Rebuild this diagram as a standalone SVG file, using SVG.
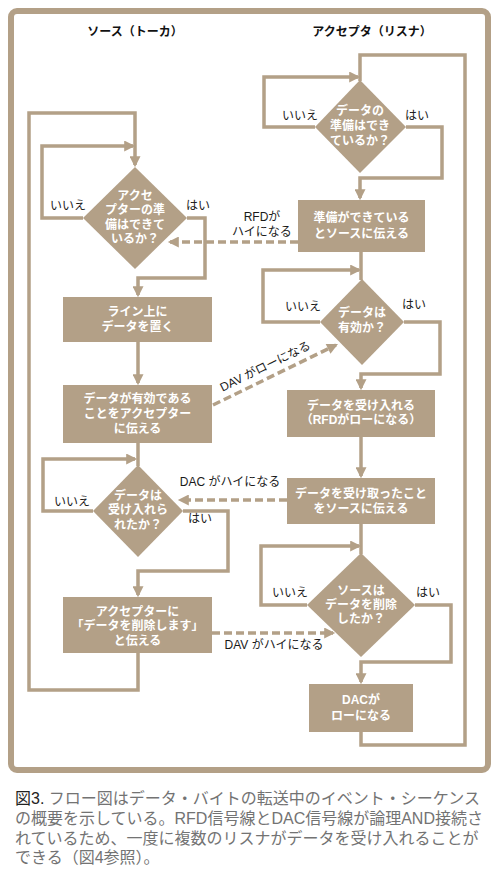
<svg xmlns="http://www.w3.org/2000/svg" width="497" height="874" viewBox="0 0 497 874">
<style>
.n{fill:#b3a087}
.t{font-family:"Liberation Sans","Noto Sans CJK JP",sans-serif;font-size:12px;font-weight:bold;fill:#fff;text-anchor:middle}
.l{font-family:"Liberation Sans","Noto Sans CJK JP",sans-serif;font-size:12px;fill:#1a1a1a;text-anchor:middle}
.h{font-family:"Liberation Sans","Noto Sans CJK JP",sans-serif;font-size:12px;font-weight:bold;fill:#111;text-anchor:middle}
.c{fill:none;stroke:#b3a087;stroke-width:3.5;stroke-linejoin:miter}
.d{fill:none;stroke:#b3a087;stroke-width:3.5;stroke-dasharray:8 4}
.cap{font-family:"Liberation Sans","Noto Sans CJK JP",sans-serif;font-size:16px;fill:#737373}
</style>
<defs>
<marker id="ah" viewBox="0 0 10 10" refX="8" refY="5" markerWidth="12" markerHeight="11" markerUnits="userSpaceOnUse" orient="auto">
<path d="M0,0 L10,5 L0,10 z" fill="#b3a087"/>
</marker>
</defs>
<rect width="497" height="874" fill="#fff"/>
<rect x="11" y="11" width="477" height="759" rx="6" fill="none" stroke="#b3a087" stroke-width="6"/>
<text class="h" x="135" y="36">ソース（トーカ）</text>
<text class="h" x="372" y="36">アクセプタ（リスナ）</text>

<g id="connectors">
<path class="c" d="M138,653 V690 H29 V113 H135 V165" marker-end="url(#ah)"/>
<path class="c" d="M83,218 H42 V146 H133" marker-end="url(#ah)"/>
<path class="c" d="M187,218 H205 V278 H138 V295" marker-end="url(#ah)"/>
<path class="c" d="M138,342 V383" marker-end="url(#ah)"/>
<path class="c" d="M138,443 V466"/>
<path class="c" d="M93,511 H43 V459 H135" marker-end="url(#ah)"/>
<path class="c" d="M183,511 H228 V571 H138 V595" marker-end="url(#ah)"/>
<path class="c" d="M361,732 V745 H465 V55 H360 V81"/>
<path class="c" d="M315,127 H264 V77 H358" marker-end="url(#ah)"/>
<path class="c" d="M406,127 H442 V178 H360 V198" marker-end="url(#ah)"/>
<path class="c" d="M361,252 V280"/>
<path class="c" d="M320,322 H263 V270 H359" marker-end="url(#ah)"/>
<path class="c" d="M404,322 H440 V374 H361 V388" marker-end="url(#ah)"/>
<path class="c" d="M361,437 V476" marker-end="url(#ah)"/>
<path class="c" d="M361,524 V554"/>
<path class="c" d="M307,605 H261 V546 H359" marker-end="url(#ah)"/>
<path class="c" d="M415,605 H451 V662 H361 V682" marker-end="url(#ah)"/>
<path class="d" d="M298,242 H170" marker-end="url(#ah)"/>
<path class="d" d="M213,405 L336,345" marker-end="url(#ah)"/>
<path class="d" d="M287,500 H180" marker-end="url(#ah)"/>
<path class="d" d="M212,633 H333" marker-end="url(#ah)"/>
<text class="l" x="262" y="221">RFDが<tspan x="262" dy="15">ハイになる</tspan></text>
<text class="l" transform="translate(267,370) rotate(-26)">DAV がローになる</text>
<text class="l" x="230" y="486">DAC がハイになる</text>
<text class="l" x="274" y="649">DAV がハイになる</text>
<text class="l" x="68" y="210">いいえ</text>
<text class="l" x="198" y="210">はい</text>
<text class="l" x="72" y="506">いいえ</text>
<text class="l" x="200" y="523">はい</text>
<text class="l" x="300" y="120">いいえ</text>
<text class="l" x="417" y="120">はい</text>
<text class="l" x="303" y="311">いいえ</text>
<text class="l" x="414" y="309">はい</text>
<text class="l" x="290" y="597">いいえ</text>
<text class="l" x="428" y="597">はい</text>
</g>

<g id="src-ready">
<polygon class="n" points="135,167 187,218 135,269 83,218"/>
<text class="t" x="135" y="199.5">アクセ<tspan x="135" dy="14.5">プターの準</tspan><tspan x="135" dy="14.5">備はできて</tspan><tspan x="135" dy="14.5">いるか？</tspan></text>
</g>
<g id="src-put">
<rect class="n" x="63" y="297" width="149" height="45"/>
<text class="t" x="137.5" y="315.5">ライン上に<tspan x="137.5" dy="15">データを置く</tspan></text>
</g>
<g id="src-valid">
<rect class="n" x="63" y="385" width="149" height="58"/>
<text class="t" x="137.5" y="402.5">データが有効である<tspan x="137.5" dy="15">ことをアクセプター</tspan><tspan x="137.5" dy="15">に伝える</tspan></text>
</g>
<g id="src-accepted">
<polygon class="n" points="138,465 183,511 138,557 93,511"/>
<text class="t" x="138" y="499.5">データは<tspan x="138" dy="14.5">受け入れら</tspan><tspan x="138" dy="14.5">れたか？</tspan></text>
</g>
<g id="src-delete">
<rect class="n" x="63" y="597" width="149" height="56"/>
<text class="t" x="137.5" y="615.5">アクセプターに<tspan x="137.5" dy="14.5">「データを削除します」</tspan><tspan x="137.5" dy="14.5">と伝える</tspan></text>
</g>

<g id="acc-ready">
<polygon class="n" points="360,80 406,127 360,173 315,127"/>
<text class="t" x="360" y="114.5">データの<tspan x="360" dy="15">準備はでき</tspan><tspan x="360" dy="15">ているか？</tspan></text>
</g>
<g id="acc-tell">
<rect class="n" x="298" y="200" width="127" height="52"/>
<text class="t" x="361.5" y="221.5">準備ができている<tspan x="361.5" dy="16">とソースに伝える</tspan></text>
</g>
<g id="acc-valid">
<polygon class="n" points="362,279 404,322 362,365 320,322"/>
<text class="t" x="362" y="316.5">データは<tspan x="362" dy="15">有効か？</tspan></text>
</g>
<g id="acc-accept">
<rect class="n" x="287" y="390" width="148" height="47"/>
<text class="t" x="361" y="409.5">データを受け入れる<tspan x="361" dy="14">（RFDがローになる）</tspan></text>
</g>
<g id="acc-received">
<rect class="n" x="287" y="478" width="148" height="46"/>
<text class="t" x="361" y="497.5">データを受け取ったこと<tspan x="361" dy="15">をソースに伝える</tspan></text>
</g>
<g id="acc-deleted">
<polygon class="n" points="361,553 415,605 361,657 307,605"/>
<text class="t" x="361" y="594.5">ソースは<tspan x="361" dy="14">データを削除</tspan><tspan x="361" dy="14">したか？</tspan></text>
</g>
<g id="acc-dac">
<rect class="n" x="309" y="684" width="104" height="48"/>
<text class="t" x="361" y="703.5">DACが<tspan x="361" dy="16">ローになる</tspan></text>
</g>

<g id="caption">
<text class="cap" x="15" y="804"><tspan fill="#222">図3.</tspan> フロー図はデータ・バイトの転送中のイベント・シーケンス<tspan x="15" dy="20">の概要を示している。RFD信号線とDAC信号線が論理AND接続さ</tspan><tspan x="15" dy="20">れているため、一度に複数のリスナがデータを受け入れることが</tspan><tspan x="15" dy="19">できる（図4参照）。</tspan></text>
</g>
</svg>
